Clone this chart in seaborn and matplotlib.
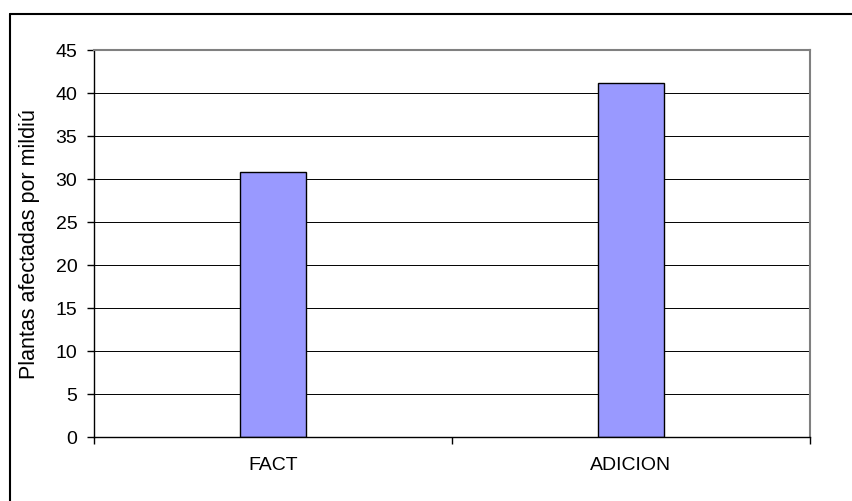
import matplotlib
matplotlib.use("Agg")
import matplotlib.pyplot as plt
import seaborn as sns
import pandas as pd
from matplotlib.lines import Line2D

categories = ["FACT", "ADICION"]
values = [30.8, 41.2]
yticks = [0, 5, 10, 15, 20, 25, 30, 35, 40, 45]
ylabel = "Plantas afectadas por mildiú"

sns.set_theme(style="white")
plt.rcParams['font.family'] = ['Liberation Sans', 'DejaVu Sans']

df = pd.DataFrame({"cat": categories, "val": values})

fig = plt.figure(figsize=(8.53, 5.02), dpi=100)
W, H = 853, 502
ax = fig.add_axes([94 / W, (H - 438) / H, 716 / W, 387 / H])

sns.barplot(data=df, x="cat", y="val", ax=ax, color="#9999FF", width=0.187,
            edgecolor="black", linewidth=1.0, saturation=1)

ax.set_xlim(-0.5, len(categories) - 0.5)
ax.set_ylim(0, 45)
ax.set_yticks(yticks)
ax.set_yticklabels([str(t) for t in yticks], fontsize=14, color="black")
ax.yaxis.grid(True, color="black", linewidth=0.7)
ax.set_axisbelow(True)

# category boundaries as major ticks, labels on minor ticks
ax.set_xticks([i - 0.5 for i in range(len(categories) + 1)])
ax.set_xticklabels([""] * (len(categories) + 1))
ax.set_xticks(range(len(categories)), minor=True)
ax.set_xticklabels(categories, minor=True, fontsize=14, color="black")
ax.tick_params(axis="x", which="major", direction="out", length=5, width=1, color="black", bottom=True)
ax.tick_params(axis="x", which="minor", length=0, pad=14, bottom=True)
ax.tick_params(axis="y", direction="out", length=5, width=1, color="black", pad=7, left=True)

ax.set_xlabel("")
ax.set_ylabel(ylabel, fontsize=15.5, color="black")
ax.yaxis.set_label_coords(-0.075, 0.5)

for s in ["left", "bottom"]:
    ax.spines[s].set_color("black")
    ax.spines[s].set_linewidth(1.0)
for s in ["top", "right"]:
    ax.spines[s].set_color("#808080")
    ax.spines[s].set_linewidth(1.5)

# outer chart frame (top and left edges visible)
fig.add_artist(Line2D([10 / W, 10 / W], [0, 1 - 15 / H], transform=fig.transFigure, color="black", linewidth=1.5))
fig.add_artist(Line2D([10 / W, 1], [1 - 15 / H, 1 - 15 / H], transform=fig.transFigure, color="black", linewidth=1.5))

fig.savefig("out.png", dpi=100)
